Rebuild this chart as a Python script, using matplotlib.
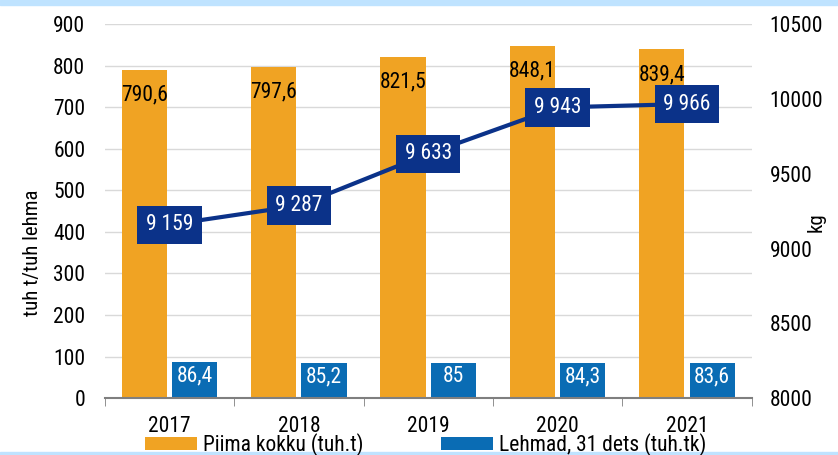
import numpy as np
import matplotlib.pyplot as plt

aastad = ['2017', '2018', '2019', '2020', '2021']
piim = [790.6, 797.6, 821.5, 848.1, 839.4]
lehmad = [86.4, 85.2, 85.0, 84.3, 83.6]
toodang = [9159, 9287, 9633, 9943, 9966]

plt.rcParams['font.family'] = ['Roboto Condensed', 'Liberation Sans Narrow', 'DejaVu Sans']

oranz = '#F0A323'
sinine = '#0A6CB4'
tume = '#0B3289'
fs = 15.5

def fmt(v):
    s = ('%.1f' % v).replace('.', ',')
    return s[:-2] if s.endswith(',0') else s

fig = plt.figure(figsize=(8.38, 4.55), dpi=100)
ax = fig.add_axes([0.125, 0.125, 0.772, 0.822])
ax2 = ax.twinx()

x = np.arange(len(aastad))
w = 0.35
b1 = ax.bar(x - 0.195, piim, w, color=oranz, label='Piima kokku (tuh.t)', zorder=2)
b2 = ax.bar(x + 0.195, lehmad, w, color=sinine, label='Lehmad, 31 dets (tuh.tk)', zorder=2)

for r, v in zip(b1, piim):
    ax.text(r.get_x() + r.get_width() / 2, v - 36, fmt(v), ha='center', va='top', fontsize=fs, color='black')
for r, v in zip(b2, lehmad):
    ax.text(r.get_x() + r.get_width() / 2, v - 8, fmt(v), ha='center', va='top', fontsize=fs, color='white')

ax2.plot(x, toodang, color=tume, lw=3, zorder=3)
for xi, v in zip(x, toodang):
    ax2.text(xi, v, '{:,}'.format(v).replace(',', ' '), ha='center', va='center', fontsize=fs, color='white',
             bbox=dict(boxstyle='square,pad=0.4', fc=tume, ec='none'), zorder=4)

ax.set_ylim(0, 900)
ax.set_yticks(range(0, 901, 100))
ax2.set_ylim(8000, 10500)
ax2.set_yticks(range(8000, 10501, 500))
ax.set_xlim(-0.5, 4.5)
ax.set_xticks(x)
ax.set_xticklabels(aastad)
ax.set_xticks(np.arange(-0.5, 5, 1), minor=True)
ax.tick_params(axis='x', which='major', length=0, labelsize=fs, pad=13)
ax.tick_params(axis='x', which='minor', length=6, color='#7f7f7f', direction='out')
ax.tick_params(axis='y', length=0, labelsize=fs, pad=14)
ax2.tick_params(axis='y', length=0, labelsize=fs, pad=13)

ax.grid(axis='y', color='#d9d9d9', lw=1, zorder=0)
ax.set_axisbelow(True)
for s in ['top', 'right', 'left']:
    ax.spines[s].set_visible(False)
    ax2.spines[s].set_visible(False)
ax2.spines['bottom'].set_visible(False)
ax.spines['bottom'].set_color('#7f7f7f')
ax.spines['bottom'].set_linewidth(1.5)

ax.set_ylabel('tuh t/tuh lehma', fontsize=15)
ax.yaxis.set_label_coords(-0.097, 0.39)
ax2.set_ylabel('kg', fontsize=15)
ax2.yaxis.set_label_coords(1.085, 0.47)

fig.legend(handles=[b1, b2], loc='center', bbox_to_anchor=(0.508, 0.022), ncol=2, frameon=False,
           fontsize=fs, handlelength=2.4, handleheight=0.55, columnspacing=3.6, handletextpad=0.3,
           borderpad=0, borderaxespad=0)

fig.patches.append(plt.Rectangle((0, 0.99), 1, 0.01, transform=fig.transFigure, color='#BFE3FF'))
fig.patches.append(plt.Rectangle((0, 0), 1, 0.006, transform=fig.transFigure, color='#BFE3FF', zorder=5))

fig.savefig('out.png', dpi=100)
